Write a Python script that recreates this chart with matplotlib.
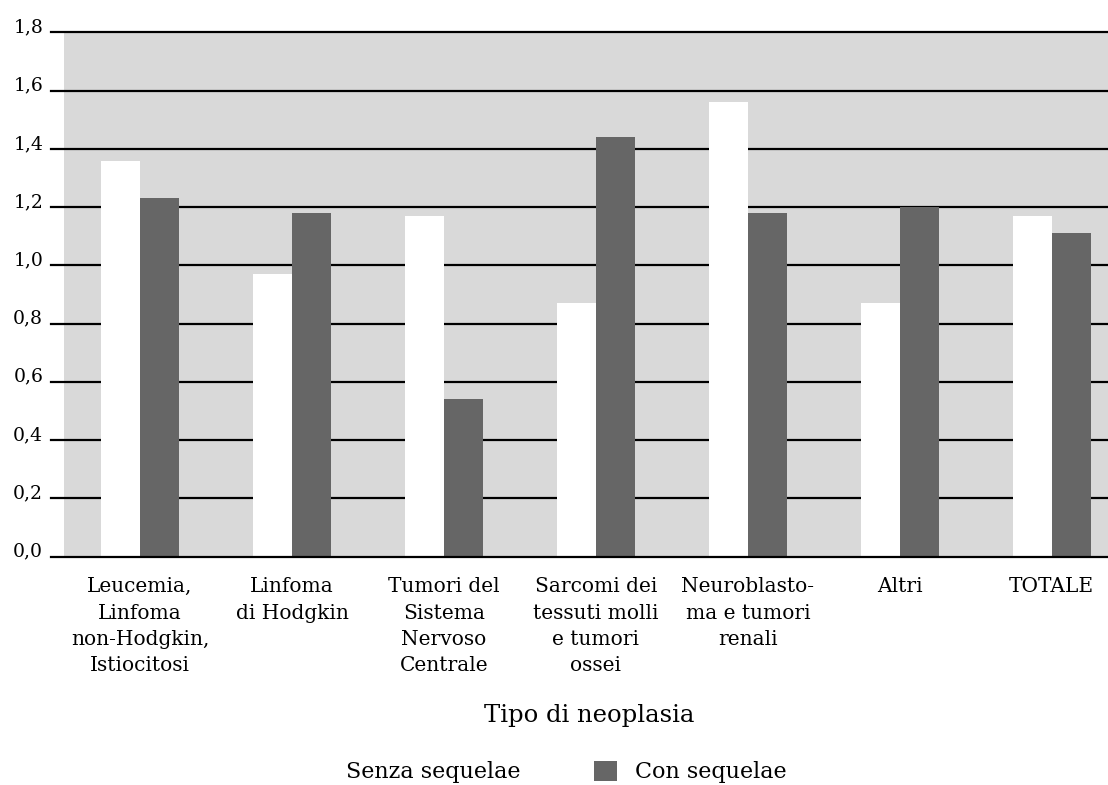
import matplotlib
matplotlib.use("Agg")
import matplotlib.pyplot as plt
from matplotlib.patches import Patch
import numpy as np

categories = [
    "Leucemia,\nLinfoma\nnon-Hodgkin,\nIstiocitosi",
    "Linfoma\ndi Hodgkin",
    "Tumori del\nSistema\nNervoso\nCentrale",
    "Sarcomi dei\ntessuti molli\ne tumori\nossei",
    "Neuroblasto-\nma e tumori\nrenali",
    "Altri",
    "TOTALE",
]
senza_sequelae = [1.36, 0.97, 1.17, 0.87, 1.56, 0.87, 1.17]
con_sequelae = [1.23, 1.18, 0.54, 1.44, 1.18, 1.20, 1.11]
y_ticks = [0.0, 0.2, 0.4, 0.6, 0.8, 1.0, 1.2, 1.4, 1.6, 1.8]
y_tick_labels = ["0,0", "0,2", "0,4", "0,6", "0,8", "1,0", "1,2", "1,4", "1,6", "1,8"]
x_title = "Tipo di neoplasia"
series_names = ["Senza sequelae", "Con sequelae"]

plt.rcParams["font.family"] = ["DejaVu Serif"]

W, H = 1108, 785
fig = plt.figure(figsize=(W / 100, H / 100), dpi=100)
ax_left, ax_right, ax_top, ax_bottom = 64, 1108, 32.5, 556.5
ax = fig.add_axes([ax_left / W, 1 - ax_bottom / H,
                   (ax_right - ax_left) / W, (ax_bottom - ax_top) / H])
ax.set_facecolor("#d9d9d9")

x = np.arange(len(categories))
bw = 0.255
ax.bar(x - bw / 2, senza_sequelae, width=bw, color="white", zorder=3)
ax.bar(x + bw / 2, con_sequelae, width=bw, color="#666666", zorder=3)

ax.set_xlim(-0.5, 6.37)
ax.set_ylim(0, 1.8)

# horizontal rules, extended a little to the left of the grey field
ext = 13 / (ax_right - ax_left)
for yv in y_ticks:
    ax.axhline(yv, xmin=-ext, xmax=1, color="black", lw=1.6,
               clip_on=False, zorder=2 if yv > 0 else 4)

for s in ax.spines.values():
    s.set_visible(False)

ax.set_yticks(y_ticks)
ax.set_yticklabels(y_tick_labels, fontsize=13.5)
for lab in ax.get_yticklabels():
    lab.set_verticalalignment("baseline")
ax.tick_params(axis="y", length=0, pad=15)

ax.set_xticks(x)
ax.set_xticklabels(categories, fontsize=14.5, linespacing=1.48)
ax.tick_params(axis="x", length=0, pad=15)

fig.text(589 / W, 1 - 722 / H, x_title,
         ha="center", va="baseline", fontsize=17.5)

handles = [Patch(facecolor="white", edgecolor="none"),
           Patch(facecolor="#666666", edgecolor="none")]
fig.legend(handles, series_names, loc="center", ncol=2, frameon=False,
           bbox_to_anchor=(546 / W, 1 - 772 / H), fontsize=16,
           handlelength=1.05, handleheight=1.05, handletextpad=0.77,
           columnspacing=3.3, borderpad=0.2)

fig.savefig("out.png", dpi=100)
